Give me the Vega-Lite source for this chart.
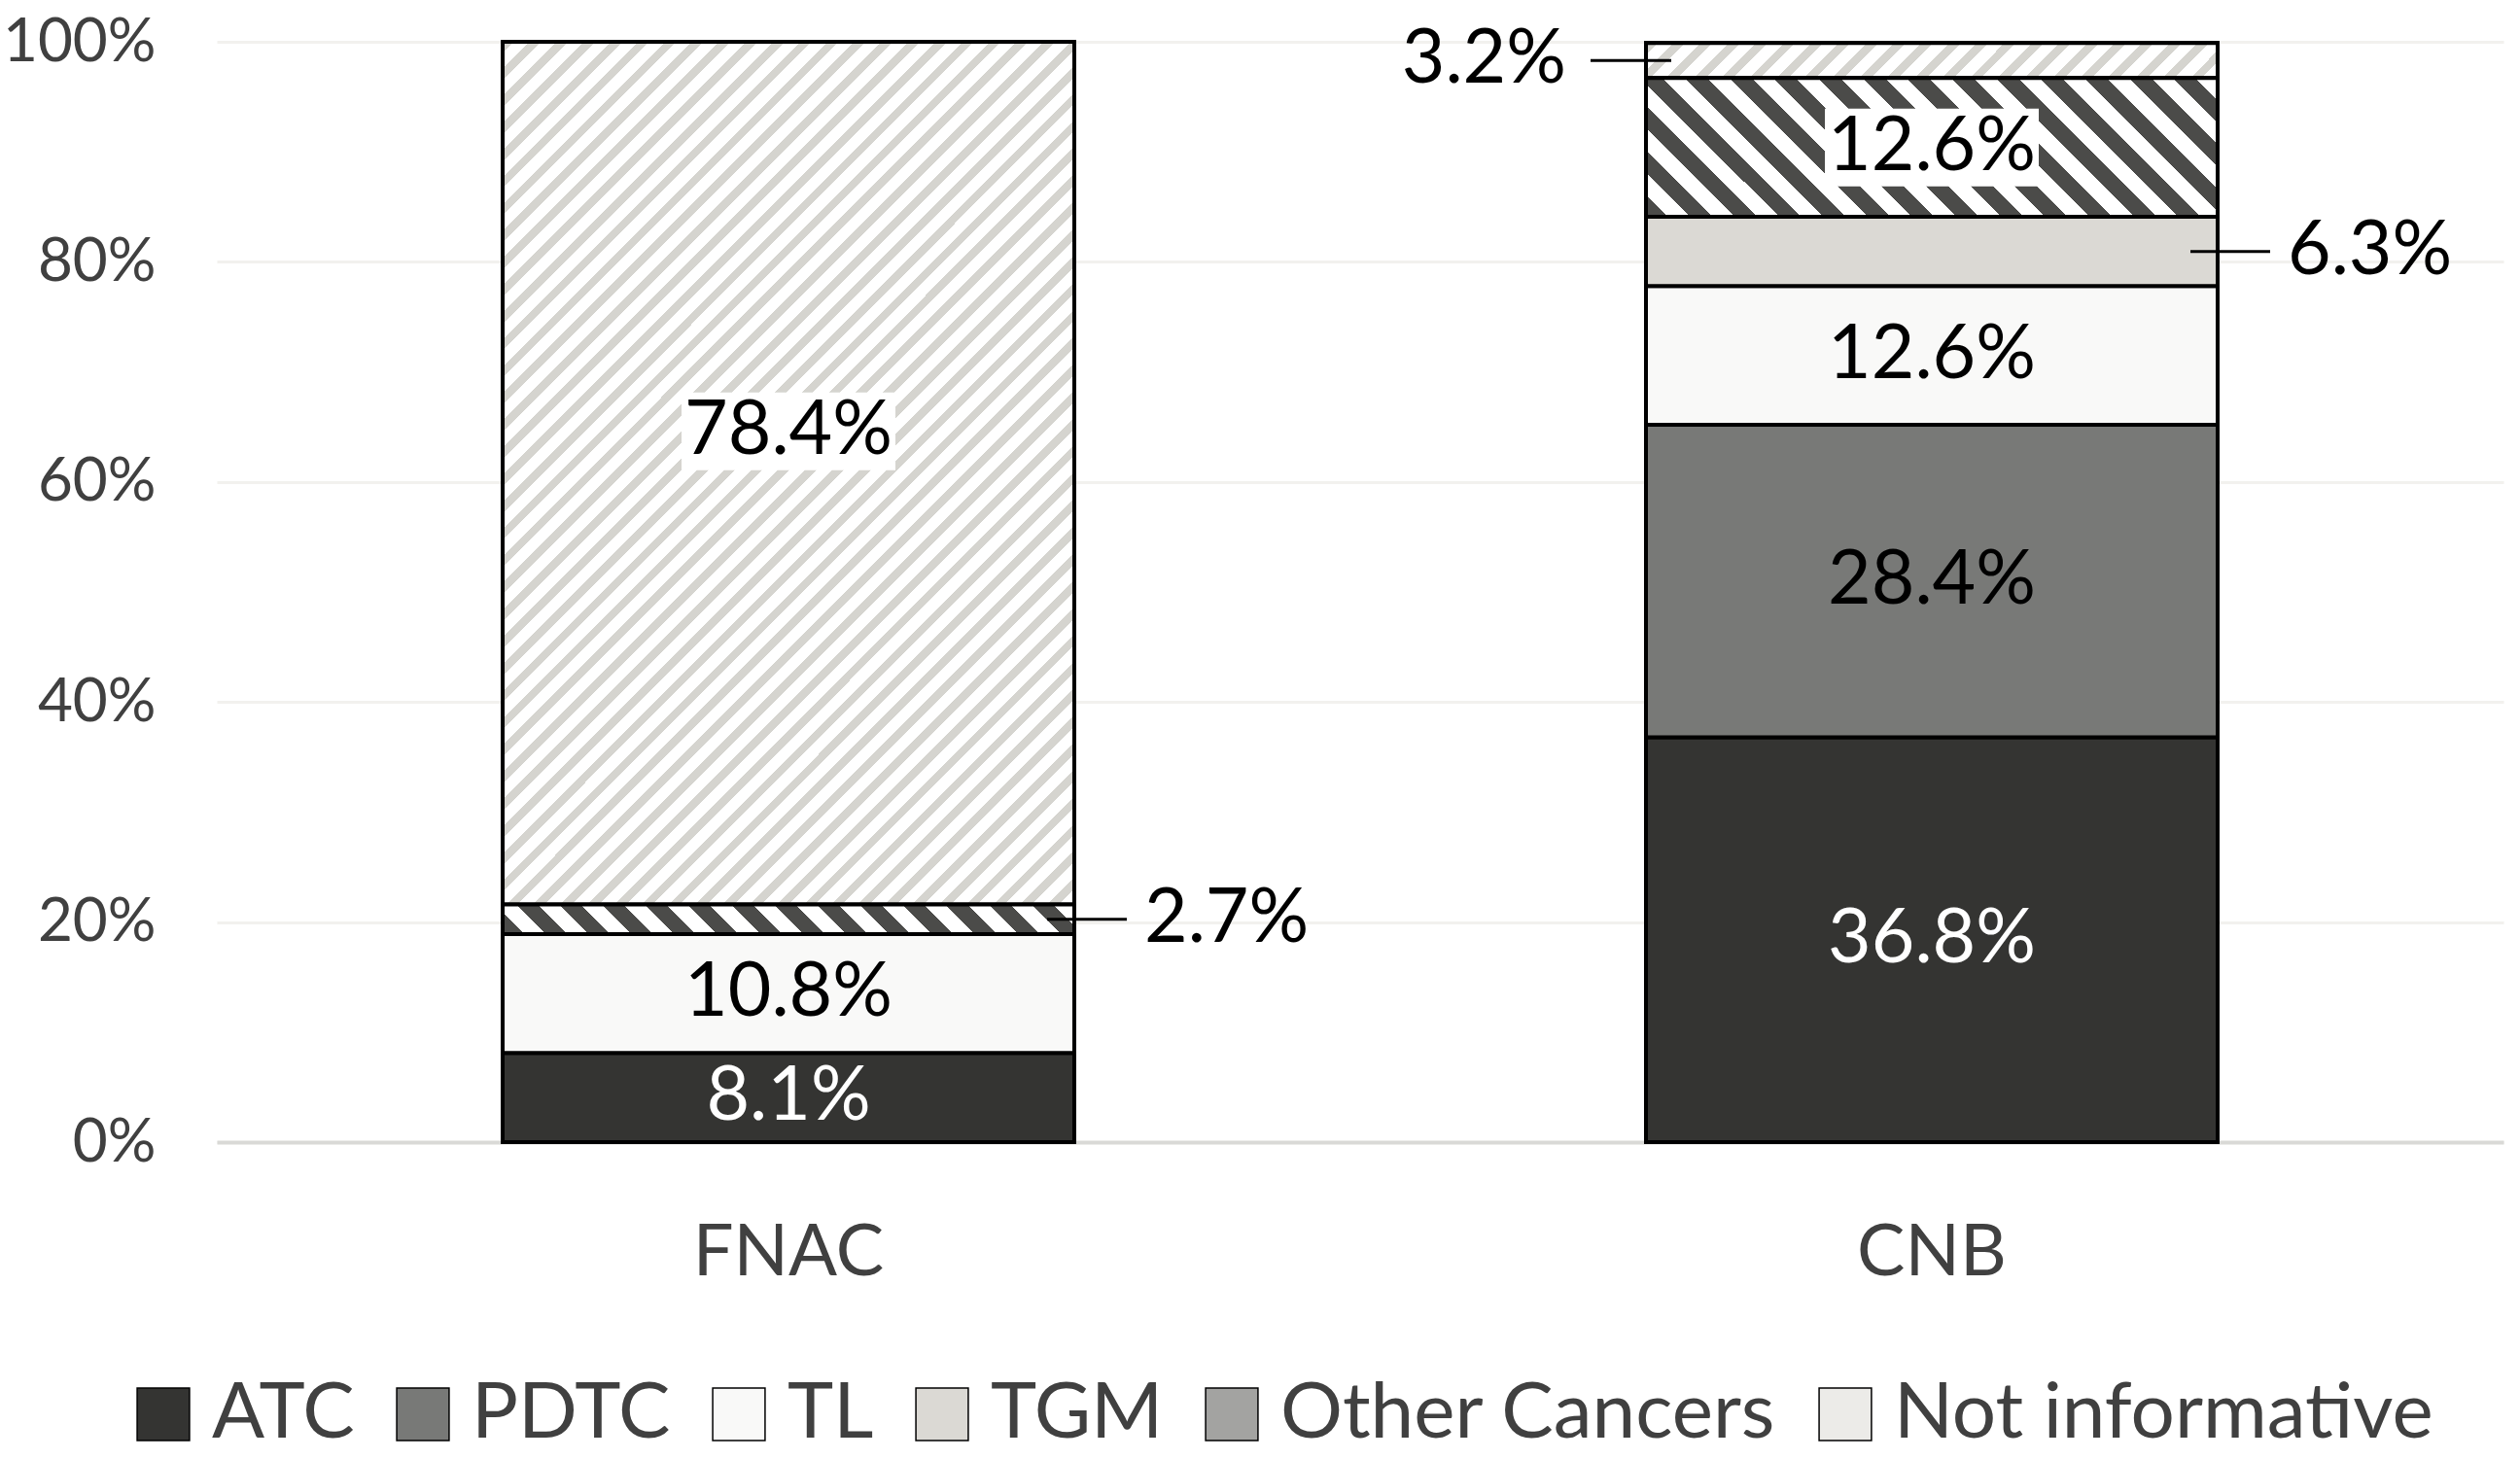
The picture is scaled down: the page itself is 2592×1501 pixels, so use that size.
{
  "$schema": "https://vega.github.io/schema/vega-lite/v6.json",
  "width": 2352,
  "height": 1132,
  "autosize": {"type": "none"},
  "padding": {"left": 223, "top": 43, "right": 17, "bottom": 326},
  "background": "white",
  "config": {
    "view": {"stroke": null},
    "font": "Lato"
  },
  "data": {
    "values": [
      {"method": "FNAC", "type": "ATC", "order": 1, "share": 0.081},
      {"method": "FNAC", "type": "PDTC", "order": 2, "share": 0},
      {"method": "FNAC", "type": "TL", "order": 3, "share": 0.108},
      {"method": "FNAC", "type": "TGM", "order": 4, "share": 0},
      {"method": "FNAC", "type": "Other Cancers", "order": 5, "share": 0.027},
      {"method": "FNAC", "type": "Not informative", "order": 6, "share": 0.784},
      {"method": "CNB", "type": "ATC", "order": 1, "share": 0.368},
      {"method": "CNB", "type": "PDTC", "order": 2, "share": 0.284},
      {"method": "CNB", "type": "TL", "order": 3, "share": 0.126},
      {"method": "CNB", "type": "TGM", "order": 4, "share": 0.063},
      {"method": "CNB", "type": "Other Cancers", "order": 5, "share": 0.126},
      {"method": "CNB", "type": "Not informative", "order": 6, "share": 0.032}
    ]
  },
  "transform": [
    {"stack": "share", "groupby": ["method"], "sort": [{"field": "order", "order": "ascending"}], "as": ["lo", "hi"]}
  ],
  "encoding": {
    "x": {
      "field": "method",
      "type": "nominal",
      "sort": ["FNAC", "CNB"],
      "scale": {"paddingInner": 0.5, "paddingOuter": 0.25},
      "axis": {
        "title": null,
        "labelAngle": 0,
        "labelFontSize": 74,
        "labelLimit": 1000,
        "labelColor": "#404040",
        "labelPadding": 78,
        "ticks": false,
        "domainColor": "#d9d9d6",
        "domainWidth": 4
      }
    }
  },
  "layer": [
    {
      "transform": [{"filter": "datum.share > 0"}],
      "mark": {"type": "bar", "stroke": "black", "strokeWidth": 4},
      "encoding": {
        "y": {
          "field": "lo",
          "type": "quantitative",
          "scale": {"domain": [0, 1], "nice": false},
          "axis": {
            "title": null,
            "values": [0, 0.2, 0.4, 0.6, 0.8, 1],
            "format": ".0%",
            "labelFontSize": 62,
            "labelColor": "#404040",
            "labelPadding": 63,
            "ticks": false,
            "domain": false,
            "gridColor": "#f2f1ee",
            "gridWidth": 3
          }
        },
        "y2": {"field": "hi"},
        "fill": {
          "field": "type",
          "type": "nominal",
          "scale": {
            "domain": ["ATC", "PDTC", "TL", "TGM", "Other Cancers", "Not informative"],
            "range": ["#343432", "#787977", "#f9f9f8", "#dbd9d4", "#a3a3a1", "#ecebe8"]
          },
          "legend": {
            "title": null,
            "orient": "none",
            "legendX": -95,
            "legendY": 1372,
            "direction": "horizontal",
            "symbolType": "square",
            "symbolSize": 2900,
            "labelFontSize": 80,
            "labelColor": "#404040",
            "labelOffset": 10,
            "labelLimit": 1000,
            "columnPadding": 30,
            "encode": {
              "symbols": {
                "update": {
                  "stroke": {"value": "black"},
                  "strokeWidth": {"value": 4}
                }
              }
            }
          }
        }
      }
    },
    {
      "transform": [{"filter": "datum.method === 'FNAC' && datum.type === 'Not informative'"}],
      "mark": {
        "type": "bar",
        "stroke": "black",
        "strokeWidth": 4,
        "fill": {
          "gradient": "linear",
          "x1": 0, "y1": 0, "x2": 0.7657, "y2": 1.1554,
          "stops": [
            {"offset": 0, "color": "#d5d4cf"}, {"offset": 0.00792, "color": "#d5d4cf"}, {"offset": 0.00792, "color": "#ffffff"}, {"offset": 0.01887, "color": "#ffffff"},
            {"offset": 0.01887, "color": "#d5d4cf"}, {"offset": 0.02679, "color": "#d5d4cf"}, {"offset": 0.02679, "color": "#ffffff"}, {"offset": 0.03774, "color": "#ffffff"},
            {"offset": 0.03774, "color": "#d5d4cf"}, {"offset": 0.04566, "color": "#d5d4cf"}, {"offset": 0.04566, "color": "#ffffff"}, {"offset": 0.0566, "color": "#ffffff"},
            {"offset": 0.0566, "color": "#d5d4cf"}, {"offset": 0.06453, "color": "#d5d4cf"}, {"offset": 0.06453, "color": "#ffffff"}, {"offset": 0.07547, "color": "#ffffff"},
            {"offset": 0.07547, "color": "#d5d4cf"}, {"offset": 0.08339, "color": "#d5d4cf"}, {"offset": 0.08339, "color": "#ffffff"}, {"offset": 0.09434, "color": "#ffffff"},
            {"offset": 0.09434, "color": "#d5d4cf"}, {"offset": 0.10226, "color": "#d5d4cf"}, {"offset": 0.10226, "color": "#ffffff"}, {"offset": 0.11321, "color": "#ffffff"},
            {"offset": 0.11321, "color": "#d5d4cf"}, {"offset": 0.12113, "color": "#d5d4cf"}, {"offset": 0.12113, "color": "#ffffff"}, {"offset": 0.13208, "color": "#ffffff"},
            {"offset": 0.13208, "color": "#d5d4cf"}, {"offset": 0.14, "color": "#d5d4cf"}, {"offset": 0.14, "color": "#ffffff"}, {"offset": 0.15094, "color": "#ffffff"},
            {"offset": 0.15094, "color": "#d5d4cf"}, {"offset": 0.15887, "color": "#d5d4cf"}, {"offset": 0.15887, "color": "#ffffff"}, {"offset": 0.16981, "color": "#ffffff"},
            {"offset": 0.16981, "color": "#d5d4cf"}, {"offset": 0.17774, "color": "#d5d4cf"}, {"offset": 0.17774, "color": "#ffffff"}, {"offset": 0.18868, "color": "#ffffff"},
            {"offset": 0.18868, "color": "#d5d4cf"}, {"offset": 0.1966, "color": "#d5d4cf"}, {"offset": 0.1966, "color": "#ffffff"}, {"offset": 0.20755, "color": "#ffffff"},
            {"offset": 0.20755, "color": "#d5d4cf"}, {"offset": 0.21547, "color": "#d5d4cf"}, {"offset": 0.21547, "color": "#ffffff"}, {"offset": 0.22642, "color": "#ffffff"},
            {"offset": 0.22642, "color": "#d5d4cf"}, {"offset": 0.23434, "color": "#d5d4cf"}, {"offset": 0.23434, "color": "#ffffff"}, {"offset": 0.24528, "color": "#ffffff"},
            {"offset": 0.24528, "color": "#d5d4cf"}, {"offset": 0.25321, "color": "#d5d4cf"}, {"offset": 0.25321, "color": "#ffffff"}, {"offset": 0.26415, "color": "#ffffff"},
            {"offset": 0.26415, "color": "#d5d4cf"}, {"offset": 0.27208, "color": "#d5d4cf"}, {"offset": 0.27208, "color": "#ffffff"}, {"offset": 0.28302, "color": "#ffffff"},
            {"offset": 0.28302, "color": "#d5d4cf"}, {"offset": 0.29094, "color": "#d5d4cf"}, {"offset": 0.29094, "color": "#ffffff"}, {"offset": 0.30189, "color": "#ffffff"},
            {"offset": 0.30189, "color": "#d5d4cf"}, {"offset": 0.30981, "color": "#d5d4cf"}, {"offset": 0.30981, "color": "#ffffff"}, {"offset": 0.32075, "color": "#ffffff"},
            {"offset": 0.32075, "color": "#d5d4cf"}, {"offset": 0.32868, "color": "#d5d4cf"}, {"offset": 0.32868, "color": "#ffffff"}, {"offset": 0.33962, "color": "#ffffff"},
            {"offset": 0.33962, "color": "#d5d4cf"}, {"offset": 0.34755, "color": "#d5d4cf"}, {"offset": 0.34755, "color": "#ffffff"}, {"offset": 0.35849, "color": "#ffffff"},
            {"offset": 0.35849, "color": "#d5d4cf"}, {"offset": 0.36642, "color": "#d5d4cf"}, {"offset": 0.36642, "color": "#ffffff"}, {"offset": 0.37736, "color": "#ffffff"},
            {"offset": 0.37736, "color": "#d5d4cf"}, {"offset": 0.38528, "color": "#d5d4cf"}, {"offset": 0.38528, "color": "#ffffff"}, {"offset": 0.39623, "color": "#ffffff"},
            {"offset": 0.39623, "color": "#d5d4cf"}, {"offset": 0.40415, "color": "#d5d4cf"}, {"offset": 0.40415, "color": "#ffffff"}, {"offset": 0.41509, "color": "#ffffff"},
            {"offset": 0.41509, "color": "#d5d4cf"}, {"offset": 0.42302, "color": "#d5d4cf"}, {"offset": 0.42302, "color": "#ffffff"}, {"offset": 0.43396, "color": "#ffffff"},
            {"offset": 0.43396, "color": "#d5d4cf"}, {"offset": 0.44189, "color": "#d5d4cf"}, {"offset": 0.44189, "color": "#ffffff"}, {"offset": 0.45283, "color": "#ffffff"},
            {"offset": 0.45283, "color": "#d5d4cf"}, {"offset": 0.46075, "color": "#d5d4cf"}, {"offset": 0.46075, "color": "#ffffff"}, {"offset": 0.4717, "color": "#ffffff"},
            {"offset": 0.4717, "color": "#d5d4cf"}, {"offset": 0.47962, "color": "#d5d4cf"}, {"offset": 0.47962, "color": "#ffffff"}, {"offset": 0.49057, "color": "#ffffff"},
            {"offset": 0.49057, "color": "#d5d4cf"}, {"offset": 0.49849, "color": "#d5d4cf"}, {"offset": 0.49849, "color": "#ffffff"}, {"offset": 0.50943, "color": "#ffffff"},
            {"offset": 0.50943, "color": "#d5d4cf"}, {"offset": 0.51736, "color": "#d5d4cf"}, {"offset": 0.51736, "color": "#ffffff"}, {"offset": 0.5283, "color": "#ffffff"},
            {"offset": 0.5283, "color": "#d5d4cf"}, {"offset": 0.53623, "color": "#d5d4cf"}, {"offset": 0.53623, "color": "#ffffff"}, {"offset": 0.54717, "color": "#ffffff"},
            {"offset": 0.54717, "color": "#d5d4cf"}, {"offset": 0.55509, "color": "#d5d4cf"}, {"offset": 0.55509, "color": "#ffffff"}, {"offset": 0.56604, "color": "#ffffff"},
            {"offset": 0.56604, "color": "#d5d4cf"}, {"offset": 0.57396, "color": "#d5d4cf"}, {"offset": 0.57396, "color": "#ffffff"}, {"offset": 0.58491, "color": "#ffffff"},
            {"offset": 0.58491, "color": "#d5d4cf"}, {"offset": 0.59283, "color": "#d5d4cf"}, {"offset": 0.59283, "color": "#ffffff"}, {"offset": 0.60377, "color": "#ffffff"},
            {"offset": 0.60377, "color": "#d5d4cf"}, {"offset": 0.6117, "color": "#d5d4cf"}, {"offset": 0.6117, "color": "#ffffff"}, {"offset": 0.62264, "color": "#ffffff"},
            {"offset": 0.62264, "color": "#d5d4cf"}, {"offset": 0.63057, "color": "#d5d4cf"}, {"offset": 0.63057, "color": "#ffffff"}, {"offset": 0.64151, "color": "#ffffff"},
            {"offset": 0.64151, "color": "#d5d4cf"}, {"offset": 0.64943, "color": "#d5d4cf"}, {"offset": 0.64943, "color": "#ffffff"}, {"offset": 0.66038, "color": "#ffffff"},
            {"offset": 0.66038, "color": "#d5d4cf"}, {"offset": 0.6683, "color": "#d5d4cf"}, {"offset": 0.6683, "color": "#ffffff"}, {"offset": 0.67925, "color": "#ffffff"},
            {"offset": 0.67925, "color": "#d5d4cf"}, {"offset": 0.68717, "color": "#d5d4cf"}, {"offset": 0.68717, "color": "#ffffff"}, {"offset": 0.69811, "color": "#ffffff"},
            {"offset": 0.69811, "color": "#d5d4cf"}, {"offset": 0.70604, "color": "#d5d4cf"}, {"offset": 0.70604, "color": "#ffffff"}, {"offset": 0.71698, "color": "#ffffff"},
            {"offset": 0.71698, "color": "#d5d4cf"}, {"offset": 0.72491, "color": "#d5d4cf"}, {"offset": 0.72491, "color": "#ffffff"}, {"offset": 0.73585, "color": "#ffffff"},
            {"offset": 0.73585, "color": "#d5d4cf"}, {"offset": 0.74377, "color": "#d5d4cf"}, {"offset": 0.74377, "color": "#ffffff"}, {"offset": 0.75472, "color": "#ffffff"},
            {"offset": 0.75472, "color": "#d5d4cf"}, {"offset": 0.76264, "color": "#d5d4cf"}, {"offset": 0.76264, "color": "#ffffff"}, {"offset": 0.77358, "color": "#ffffff"},
            {"offset": 0.77358, "color": "#d5d4cf"}, {"offset": 0.78151, "color": "#d5d4cf"}, {"offset": 0.78151, "color": "#ffffff"}, {"offset": 0.79245, "color": "#ffffff"},
            {"offset": 0.79245, "color": "#d5d4cf"}, {"offset": 0.80038, "color": "#d5d4cf"}, {"offset": 0.80038, "color": "#ffffff"}, {"offset": 0.81132, "color": "#ffffff"},
            {"offset": 0.81132, "color": "#d5d4cf"}, {"offset": 0.81925, "color": "#d5d4cf"}, {"offset": 0.81925, "color": "#ffffff"}, {"offset": 0.83019, "color": "#ffffff"},
            {"offset": 0.83019, "color": "#d5d4cf"}, {"offset": 0.83811, "color": "#d5d4cf"}, {"offset": 0.83811, "color": "#ffffff"}, {"offset": 0.84906, "color": "#ffffff"},
            {"offset": 0.84906, "color": "#d5d4cf"}, {"offset": 0.85698, "color": "#d5d4cf"}, {"offset": 0.85698, "color": "#ffffff"}, {"offset": 0.86792, "color": "#ffffff"},
            {"offset": 0.86792, "color": "#d5d4cf"}, {"offset": 0.87585, "color": "#d5d4cf"}, {"offset": 0.87585, "color": "#ffffff"}, {"offset": 0.88679, "color": "#ffffff"},
            {"offset": 0.88679, "color": "#d5d4cf"}, {"offset": 0.89472, "color": "#d5d4cf"}, {"offset": 0.89472, "color": "#ffffff"}, {"offset": 0.90566, "color": "#ffffff"},
            {"offset": 0.90566, "color": "#d5d4cf"}, {"offset": 0.91358, "color": "#d5d4cf"}, {"offset": 0.91358, "color": "#ffffff"}, {"offset": 0.92453, "color": "#ffffff"},
            {"offset": 0.92453, "color": "#d5d4cf"}, {"offset": 0.93245, "color": "#d5d4cf"}, {"offset": 0.93245, "color": "#ffffff"}, {"offset": 0.9434, "color": "#ffffff"},
            {"offset": 0.9434, "color": "#d5d4cf"}, {"offset": 0.95132, "color": "#d5d4cf"}, {"offset": 0.95132, "color": "#ffffff"}, {"offset": 0.96226, "color": "#ffffff"},
            {"offset": 0.96226, "color": "#d5d4cf"}, {"offset": 0.97019, "color": "#d5d4cf"}, {"offset": 0.97019, "color": "#ffffff"}, {"offset": 0.98113, "color": "#ffffff"},
            {"offset": 0.98113, "color": "#d5d4cf"}, {"offset": 0.98906, "color": "#d5d4cf"}, {"offset": 0.98906, "color": "#ffffff"}, {"offset": 1, "color": "#ffffff"}
          ]
        }
      },
      "encoding": {
        "y": {"field": "lo", "type": "quantitative"},
        "y2": {"field": "hi"}
      }
    },
    {
      "transform": [{"filter": "datum.method === 'CNB' && datum.type === 'Not informative'"}],
      "mark": {
        "type": "bar",
        "stroke": "black",
        "strokeWidth": 4,
        "fill": {
          "gradient": "linear",
          "x1": 0, "y1": 0, "x2": 1.0576, "y2": 0.0651,
          "stops": [
            {"offset": 0, "color": "#d5d4cf"}, {"offset": 0.01909, "color": "#d5d4cf"}, {"offset": 0.01909, "color": "#ffffff"}, {"offset": 0.04545, "color": "#ffffff"},
            {"offset": 0.04545, "color": "#d5d4cf"}, {"offset": 0.06455, "color": "#d5d4cf"}, {"offset": 0.06455, "color": "#ffffff"}, {"offset": 0.09091, "color": "#ffffff"},
            {"offset": 0.09091, "color": "#d5d4cf"}, {"offset": 0.11, "color": "#d5d4cf"}, {"offset": 0.11, "color": "#ffffff"}, {"offset": 0.13636, "color": "#ffffff"},
            {"offset": 0.13636, "color": "#d5d4cf"}, {"offset": 0.15545, "color": "#d5d4cf"}, {"offset": 0.15545, "color": "#ffffff"}, {"offset": 0.18182, "color": "#ffffff"},
            {"offset": 0.18182, "color": "#d5d4cf"}, {"offset": 0.20091, "color": "#d5d4cf"}, {"offset": 0.20091, "color": "#ffffff"}, {"offset": 0.22727, "color": "#ffffff"},
            {"offset": 0.22727, "color": "#d5d4cf"}, {"offset": 0.24636, "color": "#d5d4cf"}, {"offset": 0.24636, "color": "#ffffff"}, {"offset": 0.27273, "color": "#ffffff"},
            {"offset": 0.27273, "color": "#d5d4cf"}, {"offset": 0.29182, "color": "#d5d4cf"}, {"offset": 0.29182, "color": "#ffffff"}, {"offset": 0.31818, "color": "#ffffff"},
            {"offset": 0.31818, "color": "#d5d4cf"}, {"offset": 0.33727, "color": "#d5d4cf"}, {"offset": 0.33727, "color": "#ffffff"}, {"offset": 0.36364, "color": "#ffffff"},
            {"offset": 0.36364, "color": "#d5d4cf"}, {"offset": 0.38273, "color": "#d5d4cf"}, {"offset": 0.38273, "color": "#ffffff"}, {"offset": 0.40909, "color": "#ffffff"},
            {"offset": 0.40909, "color": "#d5d4cf"}, {"offset": 0.42818, "color": "#d5d4cf"}, {"offset": 0.42818, "color": "#ffffff"}, {"offset": 0.45455, "color": "#ffffff"},
            {"offset": 0.45455, "color": "#d5d4cf"}, {"offset": 0.47364, "color": "#d5d4cf"}, {"offset": 0.47364, "color": "#ffffff"}, {"offset": 0.5, "color": "#ffffff"},
            {"offset": 0.5, "color": "#d5d4cf"}, {"offset": 0.51909, "color": "#d5d4cf"}, {"offset": 0.51909, "color": "#ffffff"}, {"offset": 0.54545, "color": "#ffffff"},
            {"offset": 0.54545, "color": "#d5d4cf"}, {"offset": 0.56455, "color": "#d5d4cf"}, {"offset": 0.56455, "color": "#ffffff"}, {"offset": 0.59091, "color": "#ffffff"},
            {"offset": 0.59091, "color": "#d5d4cf"}, {"offset": 0.61, "color": "#d5d4cf"}, {"offset": 0.61, "color": "#ffffff"}, {"offset": 0.63636, "color": "#ffffff"},
            {"offset": 0.63636, "color": "#d5d4cf"}, {"offset": 0.65545, "color": "#d5d4cf"}, {"offset": 0.65545, "color": "#ffffff"}, {"offset": 0.68182, "color": "#ffffff"},
            {"offset": 0.68182, "color": "#d5d4cf"}, {"offset": 0.70091, "color": "#d5d4cf"}, {"offset": 0.70091, "color": "#ffffff"}, {"offset": 0.72727, "color": "#ffffff"},
            {"offset": 0.72727, "color": "#d5d4cf"}, {"offset": 0.74636, "color": "#d5d4cf"}, {"offset": 0.74636, "color": "#ffffff"}, {"offset": 0.77273, "color": "#ffffff"},
            {"offset": 0.77273, "color": "#d5d4cf"}, {"offset": 0.79182, "color": "#d5d4cf"}, {"offset": 0.79182, "color": "#ffffff"}, {"offset": 0.81818, "color": "#ffffff"},
            {"offset": 0.81818, "color": "#d5d4cf"}, {"offset": 0.83727, "color": "#d5d4cf"}, {"offset": 0.83727, "color": "#ffffff"}, {"offset": 0.86364, "color": "#ffffff"},
            {"offset": 0.86364, "color": "#d5d4cf"}, {"offset": 0.88273, "color": "#d5d4cf"}, {"offset": 0.88273, "color": "#ffffff"}, {"offset": 0.90909, "color": "#ffffff"},
            {"offset": 0.90909, "color": "#d5d4cf"}, {"offset": 0.92818, "color": "#d5d4cf"}, {"offset": 0.92818, "color": "#ffffff"}, {"offset": 0.95455, "color": "#ffffff"},
            {"offset": 0.95455, "color": "#d5d4cf"}, {"offset": 0.97364, "color": "#d5d4cf"}, {"offset": 0.97364, "color": "#ffffff"}, {"offset": 1, "color": "#ffffff"}
          ]
        }
      },
      "encoding": {
        "y": {"field": "lo", "type": "quantitative"},
        "y2": {"field": "hi"}
      }
    },
    {
      "transform": [{"filter": "datum.method === 'CNB' && datum.type === 'Other Cancers'"}],
      "mark": {
        "type": "bar",
        "stroke": "black",
        "strokeWidth": 4,
        "fill": {
          "gradient": "linear",
          "x1": 0, "y1": 1, "x2": 1.1735, "y2": 0.7153,
          "stops": [
            {"offset": 0, "color": "#4b4b49"}, {"offset": 0.03125, "color": "#4b4b49"}, {"offset": 0.03125, "color": "#ffffff"}, {"offset": 0.0625, "color": "#ffffff"},
            {"offset": 0.0625, "color": "#4b4b49"}, {"offset": 0.09375, "color": "#4b4b49"}, {"offset": 0.09375, "color": "#ffffff"}, {"offset": 0.125, "color": "#ffffff"},
            {"offset": 0.125, "color": "#4b4b49"}, {"offset": 0.15625, "color": "#4b4b49"}, {"offset": 0.15625, "color": "#ffffff"}, {"offset": 0.1875, "color": "#ffffff"},
            {"offset": 0.1875, "color": "#4b4b49"}, {"offset": 0.21875, "color": "#4b4b49"}, {"offset": 0.21875, "color": "#ffffff"}, {"offset": 0.25, "color": "#ffffff"},
            {"offset": 0.25, "color": "#4b4b49"}, {"offset": 0.28125, "color": "#4b4b49"}, {"offset": 0.28125, "color": "#ffffff"}, {"offset": 0.3125, "color": "#ffffff"},
            {"offset": 0.3125, "color": "#4b4b49"}, {"offset": 0.34375, "color": "#4b4b49"}, {"offset": 0.34375, "color": "#ffffff"}, {"offset": 0.375, "color": "#ffffff"},
            {"offset": 0.375, "color": "#4b4b49"}, {"offset": 0.40625, "color": "#4b4b49"}, {"offset": 0.40625, "color": "#ffffff"}, {"offset": 0.4375, "color": "#ffffff"},
            {"offset": 0.4375, "color": "#4b4b49"}, {"offset": 0.46875, "color": "#4b4b49"}, {"offset": 0.46875, "color": "#ffffff"}, {"offset": 0.5, "color": "#ffffff"},
            {"offset": 0.5, "color": "#4b4b49"}, {"offset": 0.53125, "color": "#4b4b49"}, {"offset": 0.53125, "color": "#ffffff"}, {"offset": 0.5625, "color": "#ffffff"},
            {"offset": 0.5625, "color": "#4b4b49"}, {"offset": 0.59375, "color": "#4b4b49"}, {"offset": 0.59375, "color": "#ffffff"}, {"offset": 0.625, "color": "#ffffff"},
            {"offset": 0.625, "color": "#4b4b49"}, {"offset": 0.65625, "color": "#4b4b49"}, {"offset": 0.65625, "color": "#ffffff"}, {"offset": 0.6875, "color": "#ffffff"},
            {"offset": 0.6875, "color": "#4b4b49"}, {"offset": 0.71875, "color": "#4b4b49"}, {"offset": 0.71875, "color": "#ffffff"}, {"offset": 0.75, "color": "#ffffff"},
            {"offset": 0.75, "color": "#4b4b49"}, {"offset": 0.78125, "color": "#4b4b49"}, {"offset": 0.78125, "color": "#ffffff"}, {"offset": 0.8125, "color": "#ffffff"},
            {"offset": 0.8125, "color": "#4b4b49"}, {"offset": 0.84375, "color": "#4b4b49"}, {"offset": 0.84375, "color": "#ffffff"}, {"offset": 0.875, "color": "#ffffff"},
            {"offset": 0.875, "color": "#4b4b49"}, {"offset": 0.90625, "color": "#4b4b49"}, {"offset": 0.90625, "color": "#ffffff"}, {"offset": 0.9375, "color": "#ffffff"},
            {"offset": 0.9375, "color": "#4b4b49"}, {"offset": 0.96875, "color": "#4b4b49"}, {"offset": 0.96875, "color": "#ffffff"}, {"offset": 1, "color": "#ffffff"}
          ]
        }
      },
      "encoding": {
        "y": {"field": "lo", "type": "quantitative"},
        "y2": {"field": "hi"}
      }
    },
    {
      "transform": [{"filter": "datum.method === 'FNAC' && datum.type === 'Other Cancers'"}],
      "mark": {
        "type": "bar",
        "stroke": "black",
        "strokeWidth": 4,
        "fill": {
          "gradient": "linear",
          "x1": 0, "y1": 1, "x2": 1.0492, "y2": 0.9454,
          "stops": [
            {"offset": 0, "color": "#4b4b49"}, {"offset": 0.03571, "color": "#4b4b49"}, {"offset": 0.03571, "color": "#ffffff"}, {"offset": 0.07143, "color": "#ffffff"},
            {"offset": 0.07143, "color": "#4b4b49"}, {"offset": 0.10714, "color": "#4b4b49"}, {"offset": 0.10714, "color": "#ffffff"}, {"offset": 0.14286, "color": "#ffffff"},
            {"offset": 0.14286, "color": "#4b4b49"}, {"offset": 0.17857, "color": "#4b4b49"}, {"offset": 0.17857, "color": "#ffffff"}, {"offset": 0.21429, "color": "#ffffff"},
            {"offset": 0.21429, "color": "#4b4b49"}, {"offset": 0.25, "color": "#4b4b49"}, {"offset": 0.25, "color": "#ffffff"}, {"offset": 0.28571, "color": "#ffffff"},
            {"offset": 0.28571, "color": "#4b4b49"}, {"offset": 0.32143, "color": "#4b4b49"}, {"offset": 0.32143, "color": "#ffffff"}, {"offset": 0.35714, "color": "#ffffff"},
            {"offset": 0.35714, "color": "#4b4b49"}, {"offset": 0.39286, "color": "#4b4b49"}, {"offset": 0.39286, "color": "#ffffff"}, {"offset": 0.42857, "color": "#ffffff"},
            {"offset": 0.42857, "color": "#4b4b49"}, {"offset": 0.46429, "color": "#4b4b49"}, {"offset": 0.46429, "color": "#ffffff"}, {"offset": 0.5, "color": "#ffffff"},
            {"offset": 0.5, "color": "#4b4b49"}, {"offset": 0.53571, "color": "#4b4b49"}, {"offset": 0.53571, "color": "#ffffff"}, {"offset": 0.57143, "color": "#ffffff"},
            {"offset": 0.57143, "color": "#4b4b49"}, {"offset": 0.60714, "color": "#4b4b49"}, {"offset": 0.60714, "color": "#ffffff"}, {"offset": 0.64286, "color": "#ffffff"},
            {"offset": 0.64286, "color": "#4b4b49"}, {"offset": 0.67857, "color": "#4b4b49"}, {"offset": 0.67857, "color": "#ffffff"}, {"offset": 0.71429, "color": "#ffffff"},
            {"offset": 0.71429, "color": "#4b4b49"}, {"offset": 0.75, "color": "#4b4b49"}, {"offset": 0.75, "color": "#ffffff"}, {"offset": 0.78571, "color": "#ffffff"},
            {"offset": 0.78571, "color": "#4b4b49"}, {"offset": 0.82143, "color": "#4b4b49"}, {"offset": 0.82143, "color": "#ffffff"}, {"offset": 0.85714, "color": "#ffffff"},
            {"offset": 0.85714, "color": "#4b4b49"}, {"offset": 0.89286, "color": "#4b4b49"}, {"offset": 0.89286, "color": "#ffffff"}, {"offset": 0.92857, "color": "#ffffff"},
            {"offset": 0.92857, "color": "#4b4b49"}, {"offset": 0.96429, "color": "#4b4b49"}, {"offset": 0.96429, "color": "#ffffff"}, {"offset": 1, "color": "#ffffff"}
          ]
        }
      },
      "encoding": {
        "y": {"field": "lo", "type": "quantitative"},
        "y2": {"field": "hi"}
      }
    },
    {
      "transform": [
        {"filter": "datum.method === 'CNB' && datum.type === 'Other Cancers'"},
        {"fold": ["lo", "hi"], "as": ["edge", "pos"]},
        {"aggregate": [{"op": "mean", "field": "pos", "as": "mid"}], "groupby": ["method", "type", "share"]}
      ],
      "mark": {
        "type": "point",
        "shape": "M-1,-0.364L1,-0.364L1,0.364L-1,0.364Z",
        "size": 48400,
        "filled": true,
        "fill": "white",
        "opacity": 1,
        "strokeWidth": 0
      },
      "encoding": {
        "y": {"field": "mid", "type": "quantitative"}
      }
    },
    {
      "transform": [
        {"filter": "datum.method === 'FNAC' && datum.type === 'Not informative'"},
        {"fold": ["lo", "hi"], "as": ["edge", "pos"]},
        {"aggregate": [{"op": "mean", "field": "pos", "as": "mid"}], "groupby": ["method", "type", "share"]}
      ],
      "mark": {
        "type": "point",
        "shape": "M-1,-0.755L1,-0.755L1,-0.027L-1,-0.027Z",
        "size": 48400,
        "filled": true,
        "fill": "white",
        "opacity": 1,
        "strokeWidth": 0
      },
      "encoding": {
        "y": {"field": "mid", "type": "quantitative"}
      }
    },
    {
      "transform": [
        {"filter": "datum.share > 0 && datum.type !== 'Not informative' && !((datum.method === 'FNAC' && datum.type === 'Other Cancers') || (datum.method === 'CNB' && datum.type === 'TGM'))"},
        {"fold": ["lo", "hi"], "as": ["edge", "pos"]},
        {"aggregate": [{"op": "mean", "field": "pos", "as": "mid"}], "groupby": ["method", "type", "share"]}
      ],
      "mark": {"type": "text", "fontSize": 77, "baseline": "middle", "align": "center"},
      "encoding": {
        "y": {"field": "mid", "type": "quantitative"},
        "text": {"field": "share", "type": "quantitative", "format": ".1%"},
        "color": {
          "condition": {"test": "datum.type === 'ATC'", "value": "white"},
          "value": "black"
        }
      }
    },
    {
      "transform": [
        {"filter": "datum.method === 'FNAC' && datum.type === 'Not informative'"},
        {"fold": ["lo", "hi"], "as": ["edge", "pos"]},
        {"aggregate": [{"op": "mean", "field": "pos", "as": "mid"}], "groupby": ["method", "type", "share"]}
      ],
      "mark": {"type": "text", "fontSize": 77, "baseline": "middle", "align": "center", "dy": -43, "color": "black"},
      "encoding": {
        "y": {"field": "mid", "type": "quantitative"},
        "text": {"field": "share", "type": "quantitative", "format": ".1%"}
      }
    },
    {
      "transform": [
        {"filter": "(datum.method === 'FNAC' && datum.type === 'Other Cancers') || (datum.method === 'CNB' && datum.type === 'TGM')"},
        {"fold": ["lo", "hi"], "as": ["edge", "pos"]},
        {"aggregate": [{"op": "mean", "field": "pos", "as": "mid"}], "groupby": ["method", "type", "share"]}
      ],
      "mark": {"type": "rule", "color": "black", "strokeWidth": 3, "xOffset": 266, "x2Offset": 348},
      "encoding": {
        "x2": {"field": "method"},
        "y": {"field": "mid", "type": "quantitative"}
      }
    },
    {
      "transform": [
        {"filter": "(datum.method === 'FNAC' && datum.type === 'Other Cancers') || (datum.method === 'CNB' && datum.type === 'TGM')"},
        {"fold": ["lo", "hi"], "as": ["edge", "pos"]},
        {"aggregate": [{"op": "mean", "field": "pos", "as": "mid"}], "groupby": ["method", "type", "share"]}
      ],
      "mark": {"type": "text", "fontSize": 77, "baseline": "middle", "align": "left", "dx": 366, "color": "black"},
      "encoding": {
        "y": {"field": "mid", "type": "quantitative"},
        "text": {"field": "share", "type": "quantitative", "format": ".1%"}
      }
    },
    {
      "transform": [
        {"filter": "datum.method === 'CNB' && datum.type === 'Not informative'"},
        {"fold": ["lo", "hi"], "as": ["edge", "pos"]},
        {"aggregate": [{"op": "mean", "field": "pos", "as": "mid"}], "groupby": ["method", "type", "share"]}
      ],
      "mark": {"type": "rule", "color": "black", "strokeWidth": 3, "xOffset": -351, "x2Offset": -268},
      "encoding": {
        "x2": {"field": "method"},
        "y": {"field": "mid", "type": "quantitative"}
      }
    },
    {
      "transform": [
        {"filter": "datum.method === 'CNB' && datum.type === 'Not informative'"},
        {"fold": ["lo", "hi"], "as": ["edge", "pos"]},
        {"aggregate": [{"op": "mean", "field": "pos", "as": "mid"}], "groupby": ["method", "type", "share"]}
      ],
      "mark": {"type": "text", "fontSize": 77, "baseline": "middle", "align": "right", "dx": -376, "color": "black"},
      "encoding": {
        "y": {"field": "mid", "type": "quantitative"},
        "text": {"field": "share", "type": "quantitative", "format": ".1%"}
      }
    }
  ]
}
